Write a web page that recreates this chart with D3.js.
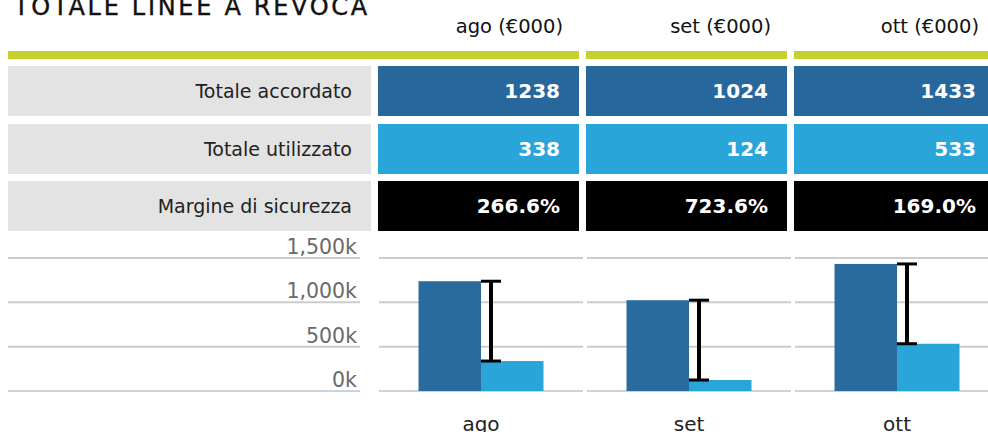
<!DOCTYPE html>
<html>
<head>
<meta charset="utf-8">
<script src="https://cdn.jsdelivr.net/npm/d3@7"></script>
<style>
  body { margin: 0; background: #fff; }
  svg { display: block; }
</style>
</head>
<body>
<div id="chart"></div>
<script>
// data
var months = ["ago", "set", "ott"];
var headers = ["ago (€000)", "set (€000)", "ott (€000)"];
var rowLabels = ["Totale accordato", "Totale utilizzato", "Margine di sicurezza"];
var accordato = [1238, 1024, 1433];
var utilizzato = [338, 124, 533];
var margine = ["266.6%", "723.6%", "169.0%"];
var yTicks = [0, 500, 1000, 1500];

var width = 988, height = 432;

var svg = d3.select("#chart").append("svg")
    .attr("width", width)
    .attr("height", height);

var font = "'DejaVu Sans', 'Open Sans', sans-serif";

//title (cut off at the top in the original)
svg.append("text")
    .attr("x", 14)
    .attr("y", 15)
    .attr("font-family", font)
    .attr("font-size", 24)
    .attr("letter-spacing", 2.7)
    .attr("fill", "#111")
    .attr("stroke", "#111")
    .attr("stroke-width", 0.4)
    .text("TOTALE LINEE A REVOCA");

///////////////////////////////////////////////////////////////////////////
////////////////////////////// Table //////////////////////////////////////
///////////////////////////////////////////////////////////////////////////

var col = d3.scaleBand()
    .domain(months)
    .range([378, 995])
    .paddingInner(7 / 208);

var rowY = [66, 124, 181], rowH = 50;
var rowColors = ["#27679c", "#29a5d9", "#000000"];
var rowValues = [accordato, utilizzato, margine];

//month headers
svg.selectAll(".head")
    .data(months)
    .enter().append("text")
    .attr("class", "head")
    .attr("x", function (d) { return col(d) + col.bandwidth() - 16; })
    .attr("y", 33)
    .attr("text-anchor", "end")
    .attr("font-family", font)
    .attr("font-size", 19.5)
    .attr("fill", "#111")
    .text(function (d, i) { return headers[i]; });

//green line under the headers
svg.append("rect")
    .attr("x", 8).attr("y", 51)
    .attr("width", 371).attr("height", 8)
    .attr("fill", "#c5d12e");
svg.selectAll(".green")
    .data(months)
    .enter().append("rect")
    .attr("class", "green")
    .attr("x", function (d) { return col(d); })
    .attr("y", 51)
    .attr("width", col.bandwidth())
    .attr("height", 8)
    .attr("fill", "#c5d12e");

rowLabels.forEach(function (lab, r) {
    svg.append("rect")
        .attr("x", 8).attr("y", rowY[r])
        .attr("width", 363).attr("height", rowH)
        .attr("fill", "#e3e3e3");
    svg.append("text")
        .attr("x", 352)
        .attr("y", rowY[r] + rowH / 2)
        .attr("dy", "0.35em")
        .attr("text-anchor", "end")
        .attr("font-family", font)
        .attr("font-size", 19)
        .attr("fill", "#222")
        .text(lab);

    var g = svg.append("g");
    g.selectAll("rect")
        .data(months)
        .enter().append("rect")
        .attr("x", function (d) { return col(d); })
        .attr("y", rowY[r])
        .attr("width", col.bandwidth())
        .attr("height", rowH)
        .attr("fill", rowColors[r]);
    g.selectAll("text")
        .data(months)
        .enter().append("text")
        .attr("x", function (d) { return col(d) + col.bandwidth() - 19; })
        .attr("y", rowY[r] + rowH / 2)
        .attr("dy", "0.36em")
        .attr("text-anchor", "end")
        .attr("font-family", font)
        .attr("font-weight", "bold")
        .attr("font-size", 20)
        .attr("fill", "#fff")
        .text(function (d, i) { return rowValues[r][i]; });
});

///////////////////////////////////////////////////////////////////////////
////////////////////////////// Bar chart //////////////////////////////////
///////////////////////////////////////////////////////////////////////////

var y = d3.scaleLinear()
    .domain([0, 1500])
    .range([391, 258]);

var x0 = d3.scaleBand()
    .domain(months)
    .range([379, 999])
    .paddingInner(4 / 208);

var x1 = d3.scaleBand()
    .domain(["acc", "uti"])
    .range([-62.5, 62.5]);

//gridlines, left part under the tick labels
svg.selectAll(".gridL")
    .data(yTicks)
    .enter().append("line")
    .attr("class", "gridL")
    .attr("x1", 8).attr("x2", 360)
    .attr("y1", function (d) { return y(d); })
    .attr("y2", function (d) { return y(d); })
    .attr("stroke", function (d) { return d === 0 ? "#c9d3de" : "#cccccc"; })
    .attr("stroke-width", 2);

months.forEach(function (m) {
    svg.append("g").selectAll("line")
        .data(yTicks)
        .enter().append("line")
        .attr("x1", x0(m)).attr("x2", x0(m) + x0.bandwidth())
        .attr("y1", function (d) { return y(d); })
        .attr("y2", function (d) { return y(d); })
        .attr("stroke", function (d) { return d === 0 ? "#c9d3de" : "#cccccc"; })
        .attr("stroke-width", 2);
});

//tick labels
var fmt = d3.format(",");
svg.selectAll(".tick")
    .data(yTicks)
    .enter().append("text")
    .attr("class", "tick")
    .attr("x", 357)
    .attr("y", function (d) { return y(d) - 4; })
    .attr("text-anchor", "end")
    .attr("font-family", font)
    .attr("font-size", 20.5)
    .attr("fill", "#6a6a6a")
    .text(function (d) { return fmt(d) + "k"; });

var groups = svg.selectAll(".month")
    .data(months)
    .enter().append("g")
    .attr("class", "month")
    .attr("transform", function (d) { return "translate(" + (x0(d) + x0.bandwidth() / 2) + ",0)"; });

groups.append("rect")
    .attr("x", x1("acc"))
    .attr("y", function (d, i) { return y(accordato[i]); })
    .attr("width", x1.bandwidth())
    .attr("height", function (d, i) { return y(0) - y(accordato[i]); })
    .attr("fill", "#286b9c");

groups.append("rect")
    .attr("x", x1("uti"))
    .attr("y", function (d, i) { return y(utilizzato[i]); })
    .attr("width", x1.bandwidth())
    .attr("height", function (d, i) { return y(0) - y(utilizzato[i]); })
    .attr("fill", "#29a5d9");

//margin bar from utilizzato up to accordato
var ex = x1("uti") + 10;
groups.append("line")
    .attr("x1", ex).attr("x2", ex)
    .attr("y1", function (d, i) { return y(accordato[i]); })
    .attr("y2", function (d, i) { return y(utilizzato[i]); })
    .attr("stroke", "#000").attr("stroke-width", 4);
groups.append("line")
    .attr("x1", ex - 10).attr("x2", ex + 10)
    .attr("y1", function (d, i) { return y(accordato[i]); })
    .attr("y2", function (d, i) { return y(accordato[i]); })
    .attr("stroke", "#000").attr("stroke-width", 3);
groups.append("line")
    .attr("x1", ex - 10).attr("x2", ex + 10)
    .attr("y1", function (d, i) { return y(utilizzato[i]); })
    .attr("y2", function (d, i) { return y(utilizzato[i]); })
    .attr("stroke", "#000").attr("stroke-width", 3);

//month labels under the chart
groups.append("text")
    .attr("y", 431)
    .attr("text-anchor", "middle")
    .attr("font-family", font)
    .attr("font-size", 20)
    .attr("fill", "#222")
    .text(function (d) { return d; });
</script>
</body>
</html>
